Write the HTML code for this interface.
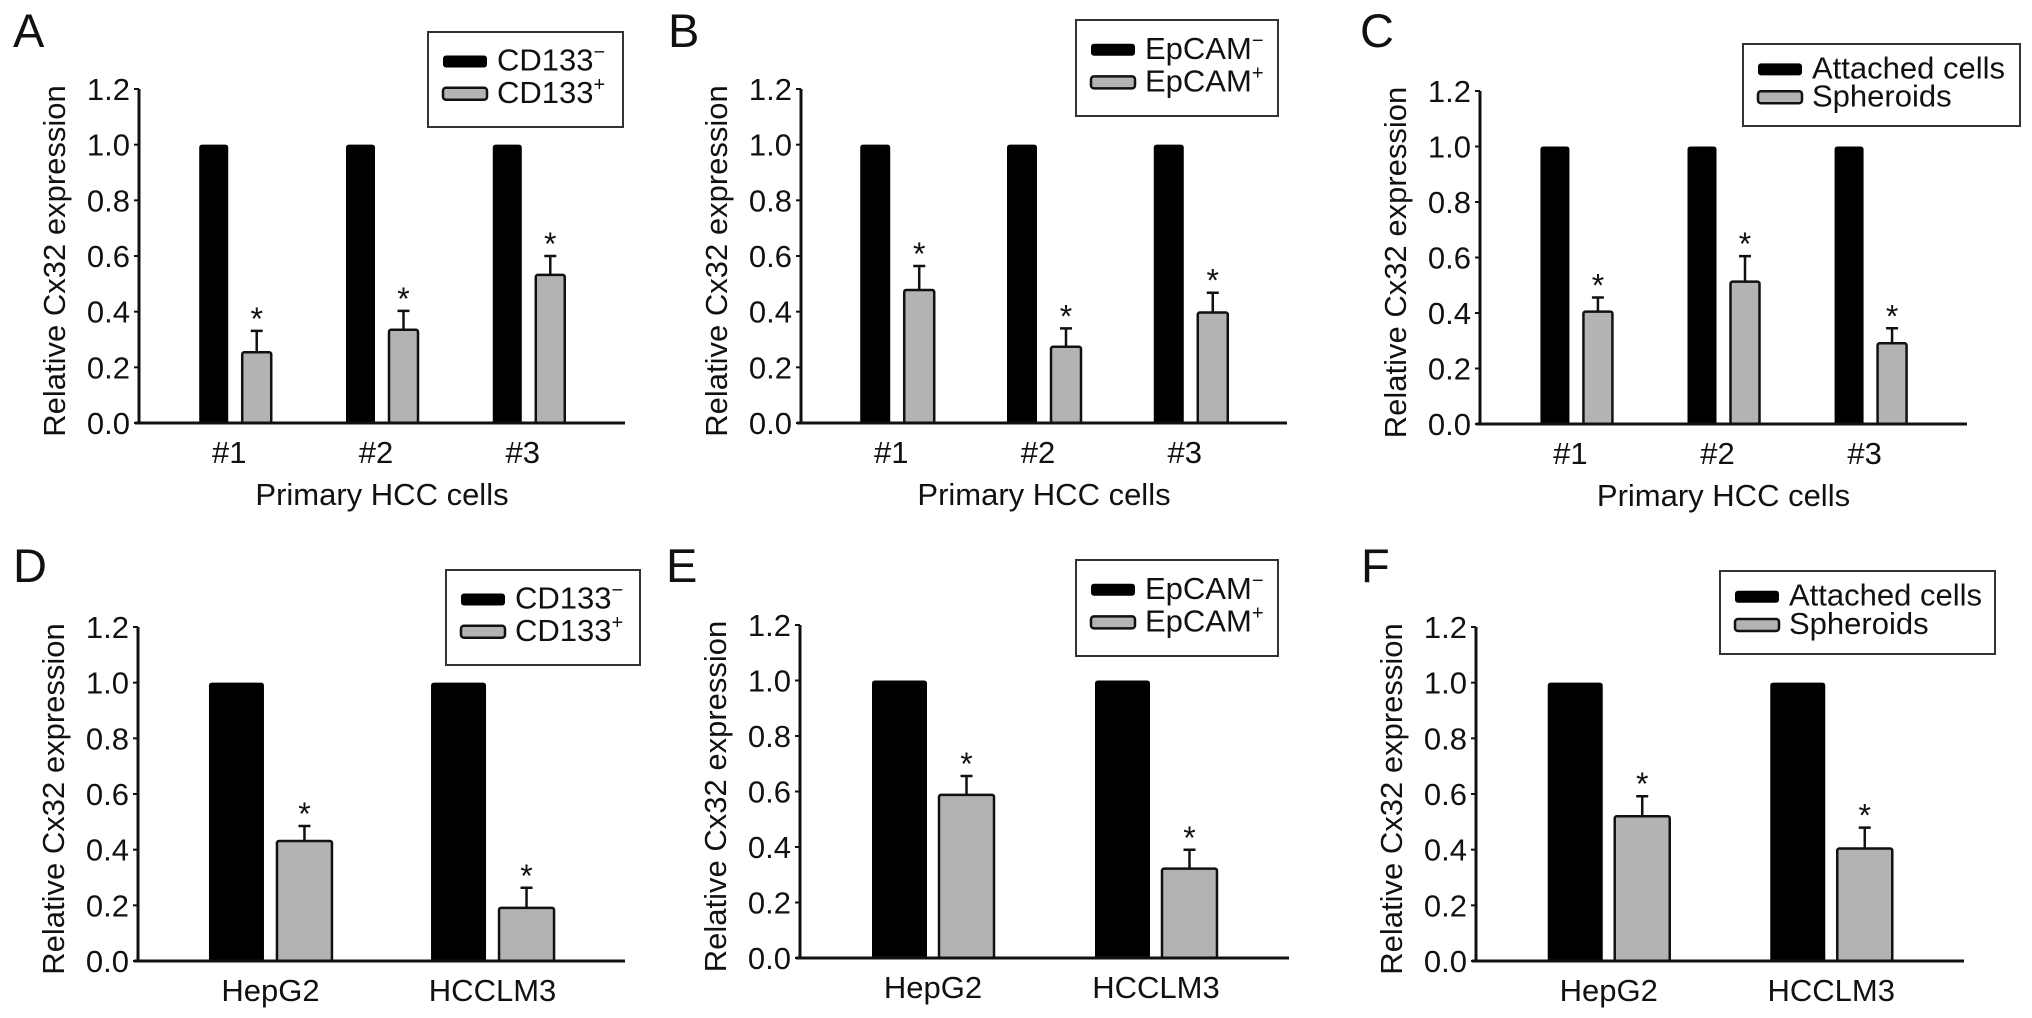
<!DOCTYPE html>
<html><head><meta charset="utf-8"><style>
html,body{margin:0;padding:0;background:#fff}
svg{display:block}
text{font-family:"Liberation Sans",Arial,sans-serif;fill:#111}
</style></head><body>
<svg id="fig" width="2032" height="1018" viewBox="0 0 2032 1018" xmlns="http://www.w3.org/2000/svg"></svg>
<script>
const yTicks = [0.0, 0.2, 0.4, 0.6, 0.8, 1.0, 1.2];
const yTickLabels = ["0.0","0.2","0.4","0.6","0.8","1.0","1.2"];
const catsPrimary = ["#1","#2","#3"];
const catsLines = ["HepG2","HCCLM3"];
const legendCD133 = ["CD133","CD133"];
const legendEpCAM = ["EpCAM","EpCAM"];
const legendSphere = ["Attached cells","Spheroids"];
const aBlack = [1,1,1];
const aGray = [0.254,0.335,0.532];
const aErr = [0.077,0.068,0.068];
const bBlack = [1,1,1];
const bGray = [0.478,0.274,0.397];
const bErr = [0.086,0.066,0.071];
const cBlack = [1,1,1];
const cGray = [0.405,0.513,0.291];
const cErr = [0.051,0.092,0.054];
const dBlack = [1,1];
const dGray = [0.431,0.191];
const dErr = [0.054,0.072];
const eBlack = [1,1];
const eGray = [0.588,0.322];
const eErr = [0.068,0.068];
const fBlack = [1,1];
const fGray = [0.520,0.404];
const fErr = [0.072,0.075];

const NS="http://www.w3.org/2000/svg";
const svg=document.getElementById('fig');
function mk(tag,attrs,parent){const e=document.createElementNS(NS,tag);for(const k in attrs)e.setAttribute(k,attrs[k]);(parent||svg).appendChild(e);return e;}

const panels=[
 {id:'a',letter:'A',lx:13,ly:47,x0:139,x1:625,y0:423,y12:89,cats:catsPrimary,black:aBlack,gray:aGray,err:aErr,pad:0.198,bw:29,gap:14,leg:legendCD133,sup:true,box:[428,32,195,95],xt:"Primary HCC cells"},
 {id:'b',letter:'B',lx:668,ly:47,x0:801,x1:1287,y0:423,y12:89,cats:catsPrimary,black:bBlack,gray:bGray,err:bErr,pad:0.198,bw:30,gap:14,leg:legendEpCAM,sup:true,box:[1076,20,202,96],xt:"Primary HCC cells"},
 {id:'c',letter:'C',lx:1360,ly:47,x0:1480,x1:1967,y0:424,y12:91,cats:catsPrimary,black:cBlack,gray:cGray,err:cErr,pad:0.198,bw:29,gap:14,leg:legendSphere,sup:false,box:[1743,44,277,82],xt:"Primary HCC cells"},
 {id:'d',letter:'D',lx:13,ly:582,x0:138,x1:625,y0:961,y12:627,cats:catsLines,black:dBlack,gray:dGray,err:dErr,pad:0.272,bw:55,gap:13,leg:legendCD133,sup:true,box:[446,570,194,95],xt:null},
 {id:'e',letter:'E',lx:666,ly:582,x0:800,x1:1289,y0:958,y12:625,cats:catsLines,black:eBlack,gray:eGray,err:eErr,pad:0.272,bw:55,gap:12,leg:legendEpCAM,sup:true,box:[1076,560,202,96],xt:null},
 {id:'f',letter:'F',lx:1361,ly:582,x0:1476,x1:1964,y0:961,y12:627,cats:catsLines,black:fBlack,gray:fGray,err:fErr,pad:0.272,bw:55,gap:12,leg:legendSphere,sup:false,box:[1720,571,275,83],xt:null}
];

panels.forEach(p=>{
  const g=mk('g',{});
  
  
  const yS=v=>p.y0-(v/1.2)*(p.y0-p.y12);
  const L=p.x1-p.x0, n=p.cats.length;
  const step=(L-2*p.pad*L)/(n-1);
  const xC=i=>p.x0+p.pad*L+i*step;
  const lt=mk('text',{x:p.lx,y:p.ly,'font-size':47},g);lt.textContent=p.letter;
  
  
  // bars
  const tw=p.bw*2+p.gap;
  for(let i=0;i<n;i++){
    const left=xC(i)-tw/2;
    const hb=yS(p.black[i]);
    const bb=mk('path',{d:`M${left},${p.y0} L${left},${hb+3} Q${left},${hb} ${left+3},${hb} L${left+p.bw-3},${hb} Q${left+p.bw},${hb} ${left+p.bw},${hb+3} L${left+p.bw},${p.y0} Z`,fill:'#000'},g);
    
    
    const gl=left+p.bw+p.gap, gt=yS(p.gray[i]), gc=gl+p.bw/2;
    const et=yS(p.gray[i]+p.err[i]);
    const eb=mk('path',{d:`M${gc},${gt} L${gc},${et} M${gc-6},${et} L${gc+6},${et}`,stroke:'#111','stroke-width':2.5,fill:'none'},g);
    
    
    const gb=mk('rect',{x:gl,y:gt,width:p.bw,height:p.y0-gt,fill:'#b3b3b3',stroke:'#111','stroke-width':2.5,rx:2},g);
    
    
    const st=mk('text',{x:gc,y:et-1,'font-size':32,'text-anchor':'middle'},g);st.textContent='*';
    
    
    const cl=mk('text',{x:xC(i)-(n===3?6:0),y:p.y0+40,'font-size':31,'text-anchor':'middle'},g);cl.textContent=p.cats[i];
    
    
  }
  // axes
  const ax=mk('path',{d:`M${p.x0},${p.y12} L${p.x0},${p.y0} M${p.x0-4},${p.y0} L${p.x1},${p.y0}`,stroke:'#111','stroke-width':3,fill:'none'},g);
  
  
  yTicks.forEach((t,k)=>{
    const y=yS(t);
    const tk=mk('line',{x1:p.x0-5,x2:p.x0,y1:y,y2:y,stroke:'#111','stroke-width':2},g);
    
    
    const tl=mk('text',{x:p.x0-9,y:y+11,'font-size':31,'text-anchor':'end'},g);tl.textContent=yTickLabels[k];
    
    
  });
  const yt=mk('text',{x:0,y:0,'font-size':31,'text-anchor':'middle',transform:`translate(${p.x0-74},${(p.y0+p.y12)/2+5}) rotate(-90)`},g);
  yt.textContent='Relative Cx32 expression';
  
  
  if(p.xt){
    const xt=mk('text',{x:(p.x0+p.x1)/2,y:p.y0+82,'font-size':31,'text-anchor':'middle'},g);xt.textContent=p.xt;
    
    
  }
  // legend
  const [bx,by,bw,bh]=p.box;
  const lg=mk('g',{},g);
  
  
  mk('rect',{x:bx,y:by,width:bw,height:bh,fill:'#fff',stroke:'#333','stroke-width':2},lg);
  [0.31,0.65].forEach((f,r)=>{
    const cy=by+bh*f;
    const sw=mk('rect',{x:bx+15,y:cy-6,width:44,height:12,rx:3,fill:r===0?'#000':'#b3b3b3',stroke:'#111','stroke-width':r===0?0:2.5},lg);
    
    
    const tx=mk('text',{x:bx+69,y:cy+9,'font-size':31},lg);
    tx.textContent=p.leg[r];
    if(p.sup){const ts=mk('tspan',{dy:-12,'font-size':20},tx);ts.textContent=r===0?'\u2212':'+';}
    
    
  });
});
</script>
</body></html>
